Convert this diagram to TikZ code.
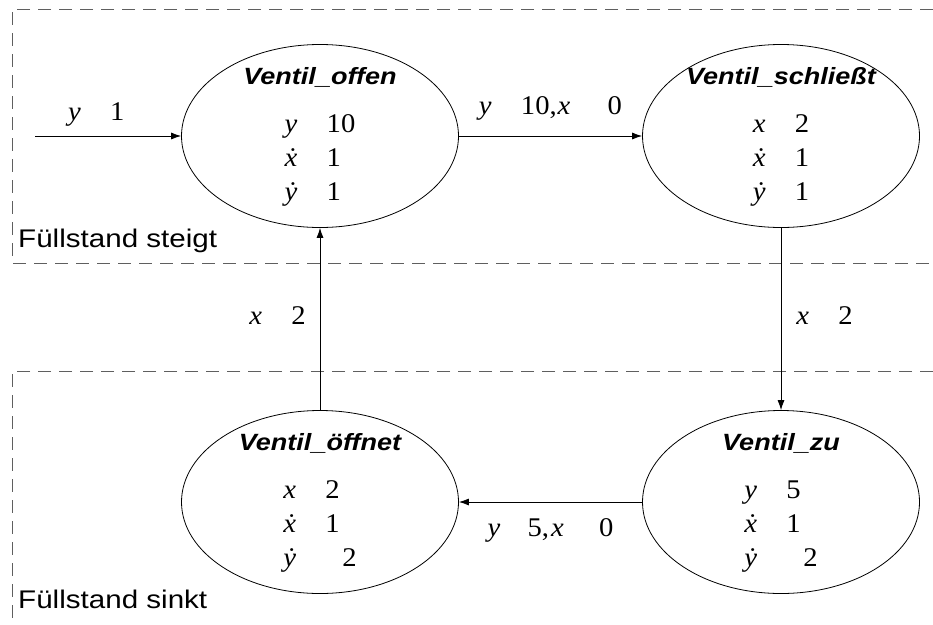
\documentclass[tikz,border=0pt]{standalone}
\usepackage{fontspec}
\setmainfont{Liberation Serif}[FakeStretch=1.06]
\newfontfamily\titelfont{Liberation Sans}[FakeStretch=1.15]
\newfontfamily\bereichfont{Liberation Sans}[FakeStretch=1.16]
\usetikzlibrary{arrows.meta,positioning,shapes.geometric}
\definecolor{bereichgrau}{RGB}{95,95,95}
\newcommand{\zl}[3][42pt]{\makebox[#1][l]{#2}#3}

\begin{document}
\begin{tikzpicture}[x=1pt,y=-1pt,>={Latex[length=10pt,width=7pt]},
    font=\fontsize{27}{34}\selectfont,
    zustand/.style={draw,ellipse,line width=0.8pt,minimum width=277pt,minimum height=183pt,inner sep=0pt},
    titel/.style={font=\titelfont\bfseries\itshape\fontsize{23.5}{28}\selectfont,inner sep=0pt},
    werte/.style={inner sep=0pt},
    bereich/.style={draw=bereichgrau,line width=0.8pt,dash pattern=on 13pt off 8pt},
    bereichtext/.style={font=\bereichfont\fontsize{25.5}{30}\selectfont,inner sep=0pt,anchor=base west},
    pfeil/.style={->,line width=0.8pt},
    marke/.style={inner sep=3pt}]
  \useasboundingbox (0,0) rectangle (933,624);
  \draw[bereich] (933,9) -| (12,263) -- (933,263);
  \draw[bereich] (933,371) -| (12,624);
  \node[bereichtext] (steigt) at (18,247) {Füllstand steigt};
  \node[bereichtext] (sinkt) at (18,608) {Füllstand sinkt};

  \node[zustand] (offen) at (320,136) {};
  \node[zustand] (schliesst) at (781,136) {};
  \node[zustand] (oeffnet) at (320,502) {};
  \node[zustand] (zu) at (781,502) {};

  \node[titel,below=40pt of offen.north,anchor=base] (offen-t) {Ventil\_offen};
  \node[titel,below=40pt of schliesst.north,anchor=base] (schliesst-t) {Ventil\_schließt};
  \node[titel,below=40pt of oeffnet.north,anchor=base] (oeffnet-t) {Ventil\_öffnet};
  \node[titel,below=40pt of zu.north,anchor=base] (zu-t) {Ventil\_zu};

  \node[werte,below=88pt of offen.north,anchor=base] (offen-w)
    {\begin{tabular}[t]{@{}l@{}}\zl{\textit{y}}{10}\\ \zl{\textit{ẋ}}{1}\\ \zl{\textit{ẏ}}{1}\end{tabular}};
  \node[werte,below=88pt of schliesst.north,anchor=base] (schliesst-w)
    {\begin{tabular}[t]{@{}l@{}}\zl{\textit{x}}{2}\\ \zl{\textit{ẋ}}{1}\\ \zl{\textit{ẏ}}{1}\end{tabular}};
  \node[werte,below=88pt of oeffnet.north,anchor=base] (oeffnet-w)
    {\begin{tabular}[t]{@{}l@{}}\zl{\textit{x}}{2}\\ \zl{\textit{ẋ}}{1}\\ \zl{\textit{ẏ}}{\hspace{17pt}2}\end{tabular}};
  \node[werte,below=88pt of zu.north,anchor=base] (zu-w)
    {\begin{tabular}[t]{@{}l@{}}\zl{\textit{y}}{5}\\ \zl{\textit{ẋ}}{1}\\ \zl{\textit{ẏ}}{\hspace{17pt}2}\end{tabular}};

  \coordinate (start) at (35,136);
  \draw[pfeil] (start) -- node[marke,above=6pt,pos=.42] (m-start) {\zl{\textit{y}}{1}} (offen.west);
  \draw[pfeil] (offen.east) -- node[marke,above=12pt] (m-oben)
    {\zl{\textit{y}}{10,}\kern1pt\zl[50pt]{\textit{x}}{0}} (schliesst.west);
  \draw[pfeil] (schliesst.south) -- node[marke,right=12pt,pos=.48] (m-rechts) {\zl{\textit{x}}{2}} (zu.north);
  \draw[pfeil] (zu.west) -- node[marke,below=13pt] (m-unten)
    {\zl[40pt]{\textit{y}}{5,}\kern2pt\zl[48pt]{\textit{x}}{0}} (oeffnet.east);
  \draw[pfeil] (oeffnet.north) -- node[marke,left=11pt,pos=.52] (m-links) {\zl{\textit{x}}{2}} (offen.south);
\end{tikzpicture}
\end{document}
